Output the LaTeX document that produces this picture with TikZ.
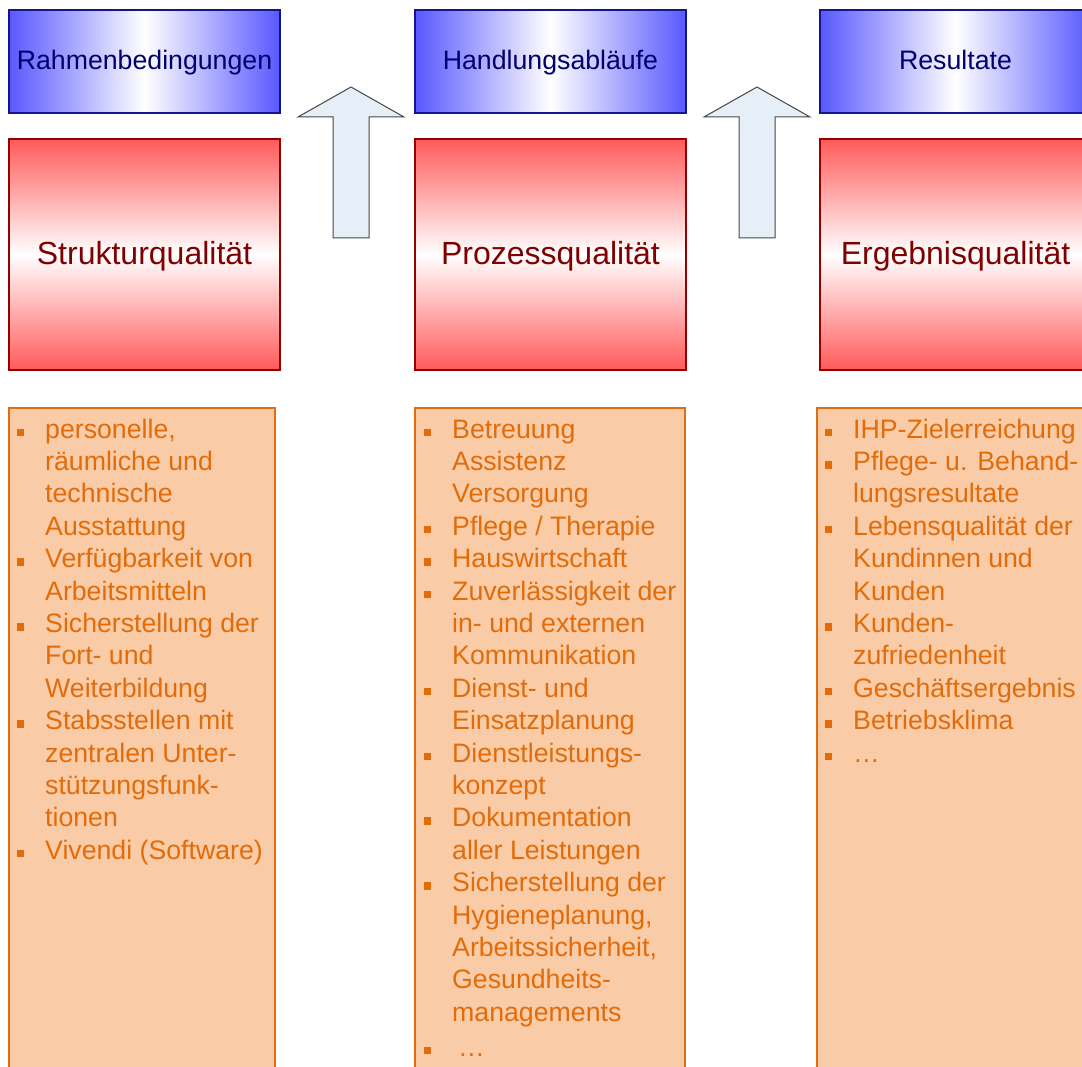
\documentclass[tikz,border=0pt]{standalone}
\usepackage{fontspec}
\setmainfont{Liberation Sans}
\usetikzlibrary{positioning}

\definecolor{headblue}{RGB}{88,88,255}
\definecolor{headborder}{RGB}{20,20,140}
\definecolor{headtext}{RGB}{0,0,110}
\definecolor{qualred}{RGB}{255,90,90}
\definecolor{qualborder}{RGB}{150,0,0}
\definecolor{qualtext}{RGB}{128,0,0}
\definecolor{listfill}{RGB}{249,203,167}
\definecolor{listborder}{RGB}{226,108,16}
\definecolor{itemorange}{RGB}{226,108,10}
\definecolor{arrowfill}{RGB}{230,238,248}
\definecolor{arrowborder}{RGB}{70,70,70}

\newcommand{\blt}{\leavevmode\llap{\textcolor{itemorange}{\rule[2pt]{7.5pt}{7.5pt}}\hspace{21pt}}\strut}

\begin{document}
\begin{tikzpicture}[
    x=1pt, y=1pt,
    headbox/.style={draw=headborder, line width=1.5pt, left color=headblue, right color=headblue, middle color=white, minimum width=271pt, minimum height=103pt, inner sep=0pt, outer sep=0pt, text height=20pt, text depth=3pt, text=headtext, font=\fontsize{26.7}{32}\selectfont},
    qualbox/.style={draw=qualborder, line width=1.5pt, top color=qualred, bottom color=qualred, middle color=white, minimum width=271pt, minimum height=231pt, inner sep=0pt, outer sep=0pt, text height=23pt, text depth=2pt, text=qualtext, font=\fontsize{32}{38}\selectfont},
    listbox/.style={draw=listborder, line width=2.5pt, fill=listfill, minimum height=680pt, inner sep=0pt, outer sep=0pt},
    items/.style={text=itemorange, font=\fontsize{26.7}{32.4}\selectfont, align=left, anchor=north west, inner sep=0pt},
    blockarrow/.style={draw=arrowborder, line width=1pt, fill=arrowfill}
]
\useasboundingbox (0,0) rectangle (1082,-1067);
\clip (0,0) rectangle (1082,-1067);

% top row
\node[headbox] (rahmen) at (144.5,-61.5) {Rahmenbedingungen};
\node[headbox, right=135pt of rahmen] (handlung) {Handlungsabläufe};
\node[headbox, right=134pt of handlung] (resultate) {Resultate};

% quality boxes
\node[qualbox, below=26pt of rahmen] (struktur) {Strukturqualität};
\node[qualbox, below=26pt of handlung] (prozess) {Prozessqualität};
\node[qualbox, below=26pt of resultate] (ergebnis) {Ergebnisqualität};

% block arrows
\coordinate (tipA) at (351,-87);
\coordinate (tipB) at (757,-87);
\draw[blockarrow] (tipA) -- ++(53,-30) -- ++(-35,0) -- ++(0,-121) -- ++(-36,0) -- ++(0,121) -- ++(-35,0) -- cycle;
\draw[blockarrow] (tipB) -- ++(53,-30) -- ++(-35,0) -- ++(0,-121) -- ++(-36,0) -- ++(0,121) -- ++(-35,0) -- cycle;

% lists
\node[listbox, minimum width=266pt, below=38pt of struktur.south west, anchor=north west] (strukturlist) {};
\node[listbox, minimum width=270pt, below=38pt of prozess.south west, anchor=north west] (prozesslist) {};
\node[listbox, minimum width=275pt, below=38pt of ergebnis.south west, anchor=north west, xshift=-3pt] (ergebnislist) {};

\node[items] (strukturitems) at ([shift={(36pt,-7.3pt)}]strukturlist.north west) {\blt personelle,\\
räumliche und\\
technische\\
Ausstattung\\
\blt Verfügbarkeit von\\
Arbeitsmitteln\\
\blt Sicherstellung der\\
Fort- und\\
Weiterbildung\\
\blt Stabsstellen mit\\
zentralen Unter-\\
stützungsfunk-\\
tionen\\
\blt Vivendi (Software)};

\node[items] (prozessitems) at ([shift={(37pt,-7.3pt)}]prozesslist.north west) {\blt Betreuung\\
Assistenz\\
Versorgung\\
\blt Pflege / Therapie\\
\blt Hauswirtschaft\\
\blt Zuverlässigkeit der\\
in- und externen\\
Kommunikation\\
\blt Dienst- und\\
Einsatzplanung\\
\blt Dienstleistungs-\\
konzept\\
\blt Dokumentation\\
aller Leistungen\\
\blt Sicherstellung der\\
Hygieneplanung,\\
Arbeitssicherheit,\\
Gesundheits-\\
managements\\[2.6pt]
\blt\hspace{6pt}…};

\node[items] (ergebnisitems) at ([shift={(36pt,-7.3pt)}]ergebnislist.north west) {\blt IHP-Zielerreichung\\
\blt Pflege- u. Behand-\\
lungsresultate\\
\blt Lebensqualität der\\
Kundinnen und\\
Kunden\\
\blt Kunden-\\
zufriedenheit\\
\blt Geschäftsergebnis\\
\blt Betriebsklima\\
\blt …};
\end{tikzpicture}
\end{document}
